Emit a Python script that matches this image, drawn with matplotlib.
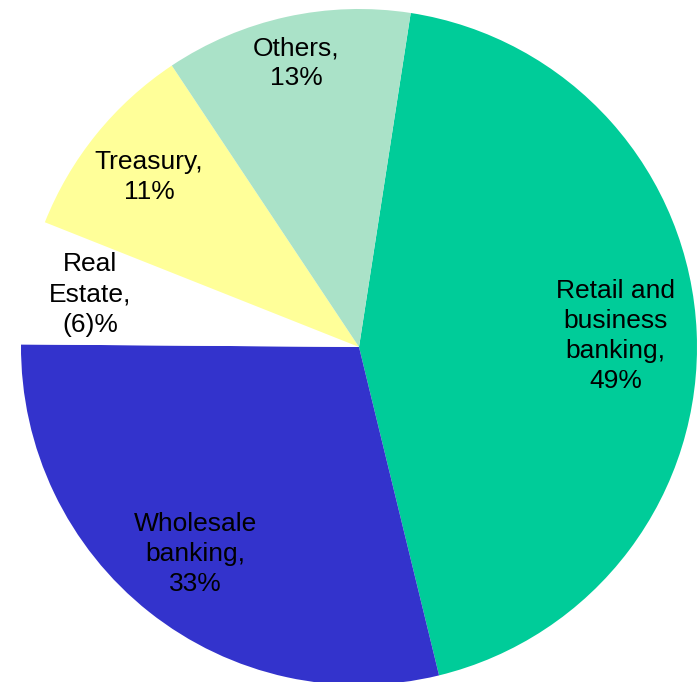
import numpy as np
import matplotlib.pyplot as plt

plt.rcParams["font.family"] = ["Liberation Sans", "DejaVu Sans"]

# segment shares (real estate is negative, drawn blank)
segments = ["Retail and\nbusiness\nbanking,", "Wholesale\nbanking,", "Real\nEstate,", "Treasury,", "Others,"]
shares = [49.0, 32.4, 6.6, 10.8, 13.2]
share_labels = ["49%", "33%", "(6)%", "11%", "13%"]
colors = ["#00CC99", "#3333CC", "#FFFFFF", "#FFFF99", "#AAE2C8"]
label_dist = [0.76, 0.78, 0.81, 0.80, 0.86]


def main():
    fig = plt.figure(figsize=(7.0, 6.82), dpi=100)
    ax = fig.add_axes([0, 0, 1, 1])

    cx, cy, r = 359, 335, 338
    wedges, _ = ax.pie(shares, colors=colors, startangle=81.2, counterclock=False,
                       center=(cx, cy), radius=r, frame=True)
    ax.set_xlim(0, 700)
    ax.set_ylim(0, 682)
    ax.set_aspect("equal")
    ax.axis("off")

    for w, name, pct, d in zip(wedges, segments, share_labels, label_dist):
        ang = np.deg2rad((w.theta1 + w.theta2) / 2)
        x = cx + d * r * np.cos(ang)
        y = cy + d * r * np.sin(ang)
        ax.text(x, y, f"{name}\n{pct}", ha="center", va="center", fontsize=19,
                linespacing=1.32, color="black")

    plt.savefig("out.png", dpi=100)


if __name__ == "__main__":
    main()
